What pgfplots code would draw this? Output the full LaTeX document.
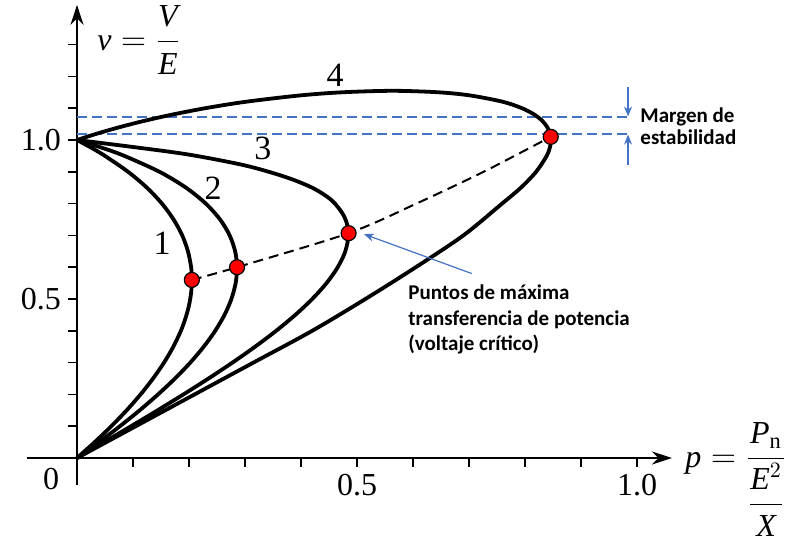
\documentclass[border=0pt]{standalone}
\usepackage{amsmath}
\usepackage{fontspec}
\setmainfont{Liberation Serif}
\newfontfamily\calibri{Carlito}
\usepackage{pgfplots}
\pgfplotsset{compat=1.18}
\usetikzlibrary{arrows.meta}
\definecolor{officeblue}{RGB}{68,114,196}

\begin{document}
\begin{tikzpicture}
\useasboundingbox (-13.3pt,-33.985pt) rectangle (387.7pt,242.515pt);
\begin{axis}[
  at={(0pt,0pt)}, anchor=south west,
  x=280pt, y=159pt,
  xmin=-0.09, xmax=1.0625, ymin=-0.085, ymax=1.425,
  axis lines=middle,
  axis line style={line width=0.9pt, -{Stealth[length=10pt,width=6.5pt]}},
  clip=false,
  tick align=outside,
  major tick length=4.5pt,
  tick style={line width=0.8pt, black},
  xtick={0.1,0.2,0.3,0.4,0.5,0.6,0.7,0.8,0.9,1.0},
  xticklabels={,,,,0.5,,,,,1.0},
  ytick={0.1,0.2,0.3,0.4,0.5,0.6,0.7,0.8,0.9,1.0,1.1,1.2,1.3},
  yticklabels={,,,,0.5,,,,,1.0,,,},
  ticklabel style={font=\fontsize{16}{16}\selectfont},
  /pgf/number format/assume math mode=true,
]
% stability margin lines
\addplot[officeblue, line width=0.85pt, dash pattern=on 5pt off 2.5pt] coordinates {(0,1.072) (0.984,1.072)};
\addplot[officeblue, line width=0.85pt, dash pattern=on 5pt off 2.5pt] coordinates {(0,1.019) (0.984,1.019)};
\addplot[officeblue, line width=0.6pt, -{Stealth[length=5pt,width=4pt]}] coordinates {(0.984,1.167) (0.984,1.074)};
\addplot[officeblue, line width=0.6pt, -{Stealth[length=5pt,width=4pt]}] coordinates {(0.984,0.921) (0.984,1.017)};

% PV curves for four load power factors
\addplot[black, line width=1.9pt, smooth] coordinates {
(0,1) (0.0262,0.975) (0.050,0.95) (0.0912,0.9) (0.1249,0.85) (0.1517,0.8) (0.1725,0.75)
(0.1879,0.7) (0.1981,0.65) (0.2038,0.6) (0.2051,0.56) (0.2038,0.52) (0.2000,0.48)
(0.1938,0.44) (0.1855,0.4) (0.1720,0.35) (0.1554,0.3) (0.1358,0.25) (0.1135,0.2)
(0.0887,0.15) (0.0613,0.1) (0.0317,0.05) (0,0)};
\addplot[black, line width=1.9pt, smooth] coordinates {
(0,1) (0.0457,0.975) (0.0846,0.95) (0.1474,0.9) (0.1947,0.85) (0.2300,0.8) (0.2555,0.75)
(0.2726,0.7) (0.2824,0.65) (0.2858,0.6) (0.2833,0.55) (0.2757,0.5) (0.2634,0.45)
(0.2468,0.4) (0.2263,0.35) (0.2023,0.3) (0.1750,0.25) (0.1447,0.2) (0.1119,0.15)
(0.0767,0.1) (0.0393,0.05) (0,0)};
\addplot[black, line width=1.9pt, smooth] coordinates {
(0,1) (0.1,0.978) (0.2,0.954) (0.3,0.92) (0.37,0.885) (0.42,0.85)
(0.455,0.81) (0.477,0.76) (0.485,0.707) (0.4791,0.65) (0.4656,0.6) (0.4456,0.55)
(0.42,0.5) (0.3898,0.45) (0.3556,0.4) (0.318,0.35) (0.2776,0.3) (0.2348,0.25)
(0.1901,0.2) (0.1439,0.15) (0.0965,0.1) (0.0484,0.05) (0,0)};
\addplot[black, line width=1.9pt, smooth] coordinates {
(0,1) (0.0356,1.02) (0.0753,1.04) (0.1196,1.06) (0.1703,1.08) (0.2291,1.1) (0.3004,1.12)
(0.3971,1.14) (0.4730,1.15) (0.5639,1.1547) (0.6459,1.15) (0.7025,1.14) (0.7609,1.12)
(0.7946,1.1) (0.8166,1.08) (0.8310,1.06) (0.8399,1.04) (0.8447,1.02) (0.8460,1.0)
(0.8449,0.98) (0.8387,0.95) (0.8198,0.9) (0.7926,0.85) (0.7590,0.8) (0.69,0.7)
(0.605,0.6) (0.515,0.5) (0.42,0.4) (0.315,0.3) (0.21,0.2) (0.105,0.1) (0,0)};

% locus of maximum power points
\addplot[black, line width=1pt, dash pattern=on 5pt off 3pt, smooth] coordinates {
(0.2051,0.56) (0.2858,0.6) (0.485,0.707) (0.606,0.8) (0.726,0.9) (0.846,1.01)};
\addplot[only marks, mark=*, mark size=3.75pt, mark options={fill=red, draw=black, line width=0.6pt}]
  coordinates {(0.2051,0.56) (0.2858,0.6) (0.485,0.707) (0.846,1.01)};

% pointer to the critical points
\draw[officeblue, line width=0.6pt, -{Stealth[length=5pt,width=4pt]}] (axis cs:0.705,0.58) -- (axis cs:0.5125,0.704);

% curve numbers
\node[font=\fontsize{17}{17}\selectfont] at (axis cs:0.152,0.676) {1};
\node[font=\fontsize{17}{17}\selectfont] at (axis cs:0.243,0.849) {2};
\node[font=\fontsize{17}{17}\selectfont] at (axis cs:0.332,0.975) {3};
\node[font=\fontsize{17}{17}\selectfont] at (axis cs:0.461,1.204) {4};
\node[font=\fontsize{16}{16}\selectfont] at (axis cs:-0.046,-0.066) {0};

% axis names
\node[anchor=west, inner sep=0pt, font=\fontsize{16}{16}\selectfont] at (axis cs:0.0357,1.3145)
  {$\textit{v} = \dfrac{\textit{V}}{\textit{E}}$};
\node[anchor=base west, inner sep=0pt, font=\fontsize{16}{16}\selectfont] at (axis cs:1.0857,-0.0283)
  {$\textit{p} = \dfrac{\textit{P}_{\textrm{n}}}{\dfrac{\textit{E}^{2}}{\textit{X}}}$};

% annotations
\node[anchor=base west, inner sep=0pt, font=\calibri\bfseries\fontsize{10.5}{13}\selectfont] at (axis cs:0.591,0.5) {Puntos de máxima};
\node[anchor=base west, inner sep=0pt, font=\calibri\bfseries\fontsize{10.5}{13}\selectfont] at (axis cs:0.591,0.4182) {transferencia de potencia};
\node[anchor=base west, inner sep=0pt, font=\calibri\bfseries\fontsize{10.5}{13}\selectfont] at (axis cs:0.591,0.3365) {(voltaje crítico)};
\node[anchor=base west, inner sep=0pt, font=\calibri\bfseries\fontsize{10.5}{13}\selectfont] at (axis cs:1.0054,1.0566) {Margen de};
\node[anchor=base west, inner sep=0pt, font=\calibri\bfseries\fontsize{10.5}{13}\selectfont] at (axis cs:1.0054,0.9843) {estabilidad};
\end{axis}
\end{tikzpicture}
\end{document}
